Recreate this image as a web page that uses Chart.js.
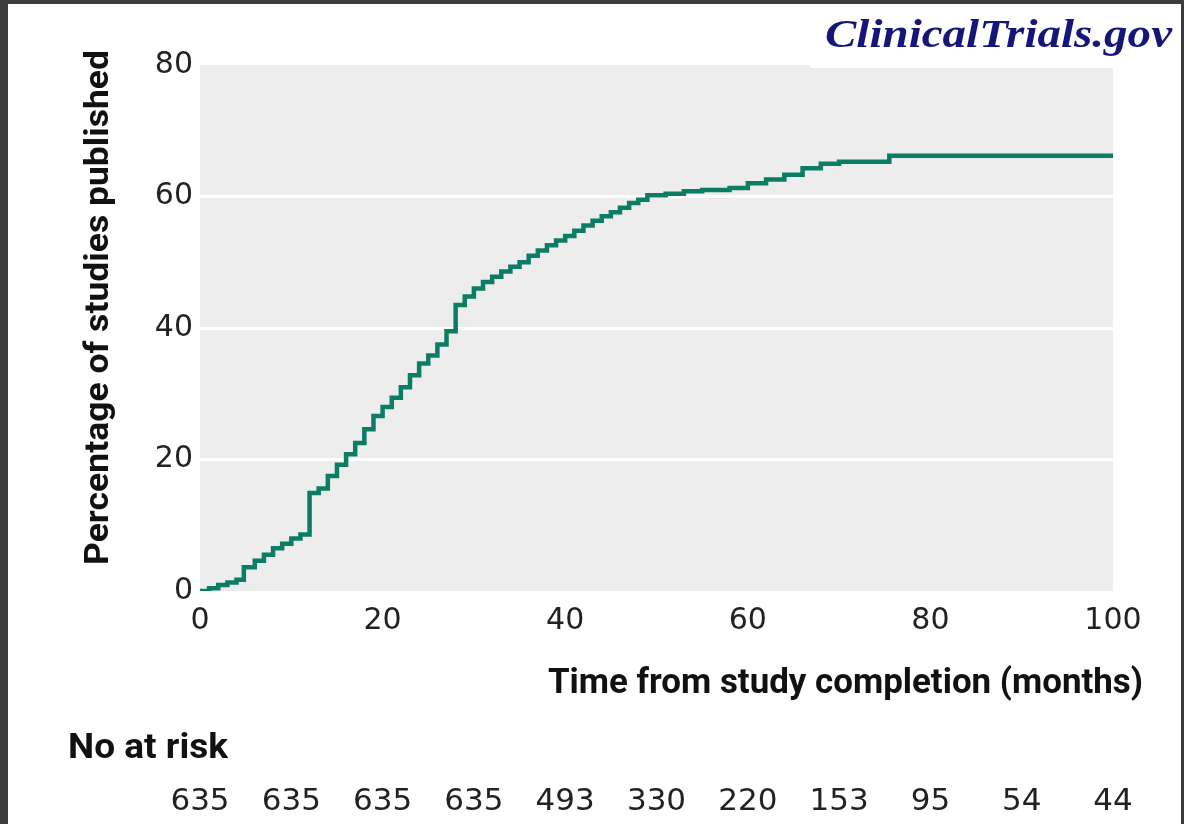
<!DOCTYPE html>
<html>
<head>
<meta charset="utf-8">
<script src="https://cdn.jsdelivr.net/npm/chart.js@4.4.1/dist/chart.umd.min.js"></script>
<style>
  html, body { margin: 0; padding: 0; }
  body { width: 1184px; height: 824px; background: #3b3b3b; position: relative; overflow: hidden; }
  #sheet { position: absolute; left: 8px; top: 4px; right: 3px; bottom: 0; background: #fff; }
  #chart { position: absolute; left: 0; top: 0; }
</style>
</head>
<body>
<div id="sheet"></div>
<canvas id="chart" width="1184" height="824"></canvas>
<script>
// Cumulative percentage of studies published
const months = [0, 1, 2, 3, 4, 4.8, 6, 7, 8, 9, 10, 11, 12, 13, 14, 15, 16, 17, 18, 19,
  20, 21, 22, 23, 24, 25, 26, 27, 28, 29, 30, 31, 32, 33, 34, 35, 36, 37, 38, 39,
  40, 41, 42, 43, 44, 45, 46, 47, 48, 49, 51, 53, 55, 58, 60, 62, 64, 66, 68, 70, 75.5, 100];
const pctPublished = [0, 0.4, 0.9, 1.3, 1.7, 3.6, 4.6, 5.5, 6.5, 7.2, 8.0, 8.6,
  14.9, 15.6, 17.5, 19.2, 20.8, 22.5, 24.6, 26.6, 28.0, 29.4, 31.0, 32.8, 34.6, 35.8, 37.5, 39.5,
  43.5, 44.8, 46.0, 47.0, 47.8, 48.6, 49.3, 50.0, 51.0, 51.8, 52.6, 53.3, 54.0, 54.8, 55.6, 56.3,
  57.0, 57.6, 58.3, 59.0, 59.5, 60.2, 60.4, 60.8, 61.0, 61.3, 62.0, 62.6, 63.3, 64.3, 65.0, 65.3,
  66.2, 66.2];

// Number at risk table
const atRiskMonths = [0, 10, 20, 30, 40, 50, 60, 70, 80, 90, 100];
const atRiskCounts = [635, 635, 635, 635, 493, 330, 220, 153, 95, 54, 44];

const yTitle = 'Percentage of studies published';
const xTitle = 'Time from study completion (months)';

// draw text squeezed/stretched to a given width
function fitText(ctx, text, x, y, width, align) {
    const w = ctx.measureText(text).width;
    ctx.save();
    ctx.translate(x, y);
    ctx.scale(width / w, 1);
    ctx.textAlign = align;
    ctx.fillText(text, 0, 0);
    ctx.restore();
}

const plotBackground = {
    id: 'plotBackground',
    beforeDraw(chart) {
        const { ctx, chartArea: a } = chart;
        ctx.save();
        ctx.fillStyle = '#ededed';
        ctx.fillRect(a.left, a.top, a.right - a.left, a.bottom - a.top);
        ctx.restore();
    }
};

const annotations = {
    id: 'annotations',
    afterDraw(chart) {
        const ctx = chart.ctx;
        const xScale = chart.scales.x;
        ctx.save();
        ctx.textBaseline = 'alphabetic';
        ctx.fillStyle = '#111';

        // y axis title
        ctx.font = 'bold 34px Roboto';
        ctx.save();
        ctx.translate(108, 307.5);
        ctx.rotate(-Math.PI / 2);
        fitText(ctx, yTitle, 0, 0, 515, 'center');
        ctx.restore();

        // x axis title
        ctx.font = 'bold 35px Roboto';
        fitText(ctx, xTitle, 1143, 693, 595, 'right');

        // number at risk
        fitText(ctx, 'No at risk', 68, 758, 160, 'left');
        ctx.font = '31px "DejaVu Sans"';
        ctx.fillStyle = '#222';
        ctx.textAlign = 'center';
        atRiskMonths.forEach((m, i) => {
            ctx.fillText(String(atRiskCounts[i]), xScale.getPixelForValue(m), 810);
        });

        // logo
        ctx.fillStyle = '#fff';
        ctx.fillRect(810, 4, 371, 64);
        ctx.fillStyle = '#16167a';
        ctx.font = 'italic bold 41px "Liberation Serif"';
        fitText(ctx, 'ClinicalTrials.gov', 825, 47, 347, 'left');
        ctx.restore();
    }
};

function drawChart() {
    const points = months.map((m, i) => ({ x: m, y: pctPublished[i] }));
    new Chart(document.getElementById('chart'), {
        type: 'line',
        data: {
            datasets: [{
                data: points,
                stepped: true,
                borderColor: '#0b7d64',
                borderWidth: 4.5,
                pointRadius: 0,
                fill: false
            }]
        },
        options: {
            responsive: false,
            animation: false,
            devicePixelRatio: 1,
            layout: { padding: { left: 0, right: 71, top: 65, bottom: 0 } },
            plugins: { legend: { display: false }, tooltip: { enabled: false } },
            scales: {
                x: {
                    type: 'linear',
                    min: 0,
                    max: 100,
                    ticks: {
                        stepSize: 20,
                        padding: 12,
                        color: '#222',
                        font: { family: 'DejaVu Sans', size: 30 },
                        maxRotation: 0
                    },
                    grid: { display: false, drawTicks: false },
                    border: { display: false },
                    afterFit: scale => { scale.height = 233; }
                },
                y: {
                    min: 0,
                    max: 80,
                    ticks: {
                        stepSize: 20,
                        padding: 7,
                        color: '#222',
                        font: { family: 'DejaVu Sans', size: 30 }
                    },
                    grid: {
                        drawTicks: false,
                        lineWidth: 3,
                        color: c => (c.tick && (c.tick.value === 0 || c.tick.value === 80)) ? 'rgba(0,0,0,0)' : '#ffffff'
                    },
                    border: { display: false },
                    afterFit: scale => { scale.width = 200; }
                }
            }
        },
        plugins: [plotBackground, annotations]
    });
}

Promise.all([
    document.fonts.load('bold 34px Roboto'),
    document.fonts.load('31px "DejaVu Sans"'),
    document.fonts.load('italic bold 41px "Liberation Serif"')
]).then(drawChart, drawChart);
</script>
</body>
</html>
